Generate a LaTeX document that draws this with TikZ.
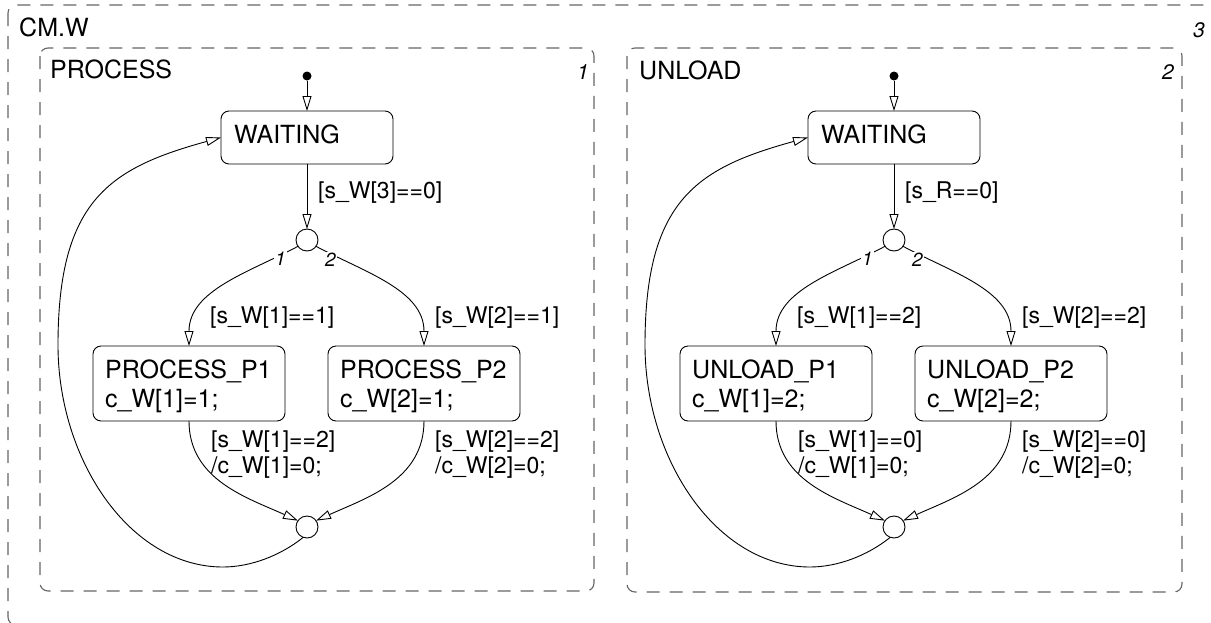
\documentclass[tikz,border=0pt]{standalone}
\usepackage{fontspec}
\setmainfont{TeX Gyre Heros}
\usetikzlibrary{arrows.meta}
\begin{document}
\begin{tikzpicture}[x=1pt,y=-1pt,
 frame/.style={draw=black!60, line width=1.1pt, dash pattern=on 13pt off 10pt, rounded corners=8pt},
 stbox/.style={draw, line width=0.9pt, rounded corners=8pt, inner sep=0pt, outer sep=0pt, anchor=north west},
 junc/.style={circle, draw, line width=0.9pt, fill=white, minimum size=22pt, inner sep=0pt, outer sep=0pt},
 dot/.style={circle, fill=black, minimum size=9pt, inner sep=0pt, outer sep=0pt},
 tr/.style={line width=0.9pt, -{Triangle[open, length=15pt, width=9pt]}},
 big/.style={font=\fontsize{25}{30}\selectfont, inner sep=0pt, anchor=base west},
 lab/.style={font=\fontsize{23}{28}\selectfont, inner sep=0pt, anchor=base west},
 num/.style={font=\fontsize{21}{25}\selectfont\itshape, inner sep=0pt, anchor=base west},
 br/.style={font=\fontsize{19}{23}\selectfont\itshape, inner sep=1pt, fill=white, anchor=base west},
]
\clip (0,0) rectangle (1211,622);
% containers
\draw[frame] (8,5) rectangle (1214,625);
\draw[frame] (40,48) rectangle (594,591);
\draw[frame] (627,48) rectangle (1182,592);
\node[big] (cmw) at (19,36) {CM.W};
\node[num] (n3) at (1193,37) {3};
\node[big] (tproc) at (50,78) {PROCESS};
\node[num] (n1) at (577,79) {1};
\node[big] (tunl) at (639,79) {UNLOAD};
\node[num] (n2) at (1162,79) {2};

% ---------- PROCESS ----------
\node[dot] (a-init) at (307,76) {};
\node[stbox, minimum width=172pt, minimum height=53pt] (a-w) at (221,111) {};
\node[big] (a-wt) at (234,143) {WAITING};
\node[junc] (a-j1) at (307,240) {};
\node[stbox, minimum width=192pt, minimum height=75pt] (a-p1) at (93,346) {};
\node[big] (a-p1t) at (105,378) {PROCESS\_P1};
\node[big] (a-p1e) at (105,407) {c\_W[1]=1;};
\node[stbox, minimum width=192pt, minimum height=75pt] (a-p2) at (328,346) {};
\node[big] (a-p2t) at (340,378) {PROCESS\_P2};
\node[big] (a-p2e) at (340,407) {c\_W[2]=1;};
\node[junc] (a-j2) at (307,527) {};

\draw[tr] (a-init.south) -- (a-w.north);
\draw[tr] (a-w.south) -- (a-j1.north);
\draw[tr] (a-j1.215) .. controls (250,272) and (189,290) .. (a-p1.north);
\draw[tr] (a-j1.-35) .. controls (364,272) and (424,290) .. (a-p2.north);
\draw[tr] (a-p1.south) .. controls (189,480) and (248,498) .. (a-j2.145);
\draw[tr] (a-p2.south) .. controls (424,480) and (366,498) .. (a-j2.35);
\draw[tr] (a-j2.250) .. controls (280,556) and (250,567) .. (223,567)
  .. controls (130,567) and (58,460) .. (58,345)
  .. controls (58,200) and (110,168) .. (a-w.west);

\node[lab] (a-l0) at (318,198) {[s\_W[3]==0]};
\node[lab] (a-l1) at (210,323) {[s\_W[1]==1]};
\node[lab] (a-l2) at (435,323) {[s\_W[2]==1]};
\node[lab] (a-l3) at (211,447) {[s\_W[1]==2]};
\node[lab] (a-l3b) at (211,473) {/c\_W[1]=0;};
\node[lab] (a-l4) at (435,447) {[s\_W[2]==2]};
\node[lab] (a-l4b) at (435,473) {/c\_W[2]=0;};
\node[br] (a-b1) at (274,265) {1};
\node[br] (a-b2) at (324,266) {2};

% ---------- UNLOAD ----------
\begin{scope}[xshift=587pt]
\node[dot] (b-init) at (307,76) {};
\node[stbox, minimum width=172pt, minimum height=53pt] (b-w) at (221,111) {};
\node[big] (b-wt) at (234,143) {WAITING};
\node[junc] (b-j1) at (307,240) {};
\node[stbox, minimum width=192pt, minimum height=75pt] (b-p1) at (93,346) {};
\node[big] (b-p1t) at (105,378) {UNLOAD\_P1};
\node[big] (b-p1e) at (105,407) {c\_W[1]=2;};
\node[stbox, minimum width=192pt, minimum height=75pt] (b-p2) at (328,346) {};
\node[big] (b-p2t) at (340,378) {UNLOAD\_P2};
\node[big] (b-p2e) at (340,407) {c\_W[2]=2;};
\node[junc] (b-j2) at (307,527) {};

\draw[tr] (b-init.south) -- (b-w.north);
\draw[tr] (b-w.south) -- (b-j1.north);
\draw[tr] (b-j1.215) .. controls (250,272) and (189,290) .. (b-p1.north);
\draw[tr] (b-j1.-35) .. controls (364,272) and (424,290) .. (b-p2.north);
\draw[tr] (b-p1.south) .. controls (189,480) and (248,498) .. (b-j2.145);
\draw[tr] (b-p2.south) .. controls (424,480) and (366,498) .. (b-j2.35);
\draw[tr] (b-j2.250) .. controls (280,556) and (250,567) .. (223,567)
  .. controls (130,567) and (58,460) .. (58,345)
  .. controls (58,200) and (110,168) .. (b-w.west);

\node[lab] (b-l0) at (318,198) {[s\_R==0]};
\node[lab] (b-l1) at (210,323) {[s\_W[1]==2]};
\node[lab] (b-l2) at (435,323) {[s\_W[2]==2]};
\node[lab] (b-l3) at (211,447) {[s\_W[1]==0]};
\node[lab] (b-l3b) at (211,473) {/c\_W[1]=0;};
\node[lab] (b-l4) at (435,447) {[s\_W[2]==0]};
\node[lab] (b-l4b) at (435,473) {/c\_W[2]=0;};
\node[br] (b-b1) at (274,265) {1};
\node[br] (b-b2) at (324,266) {2};
\end{scope}
\end{tikzpicture}
\end{document}
